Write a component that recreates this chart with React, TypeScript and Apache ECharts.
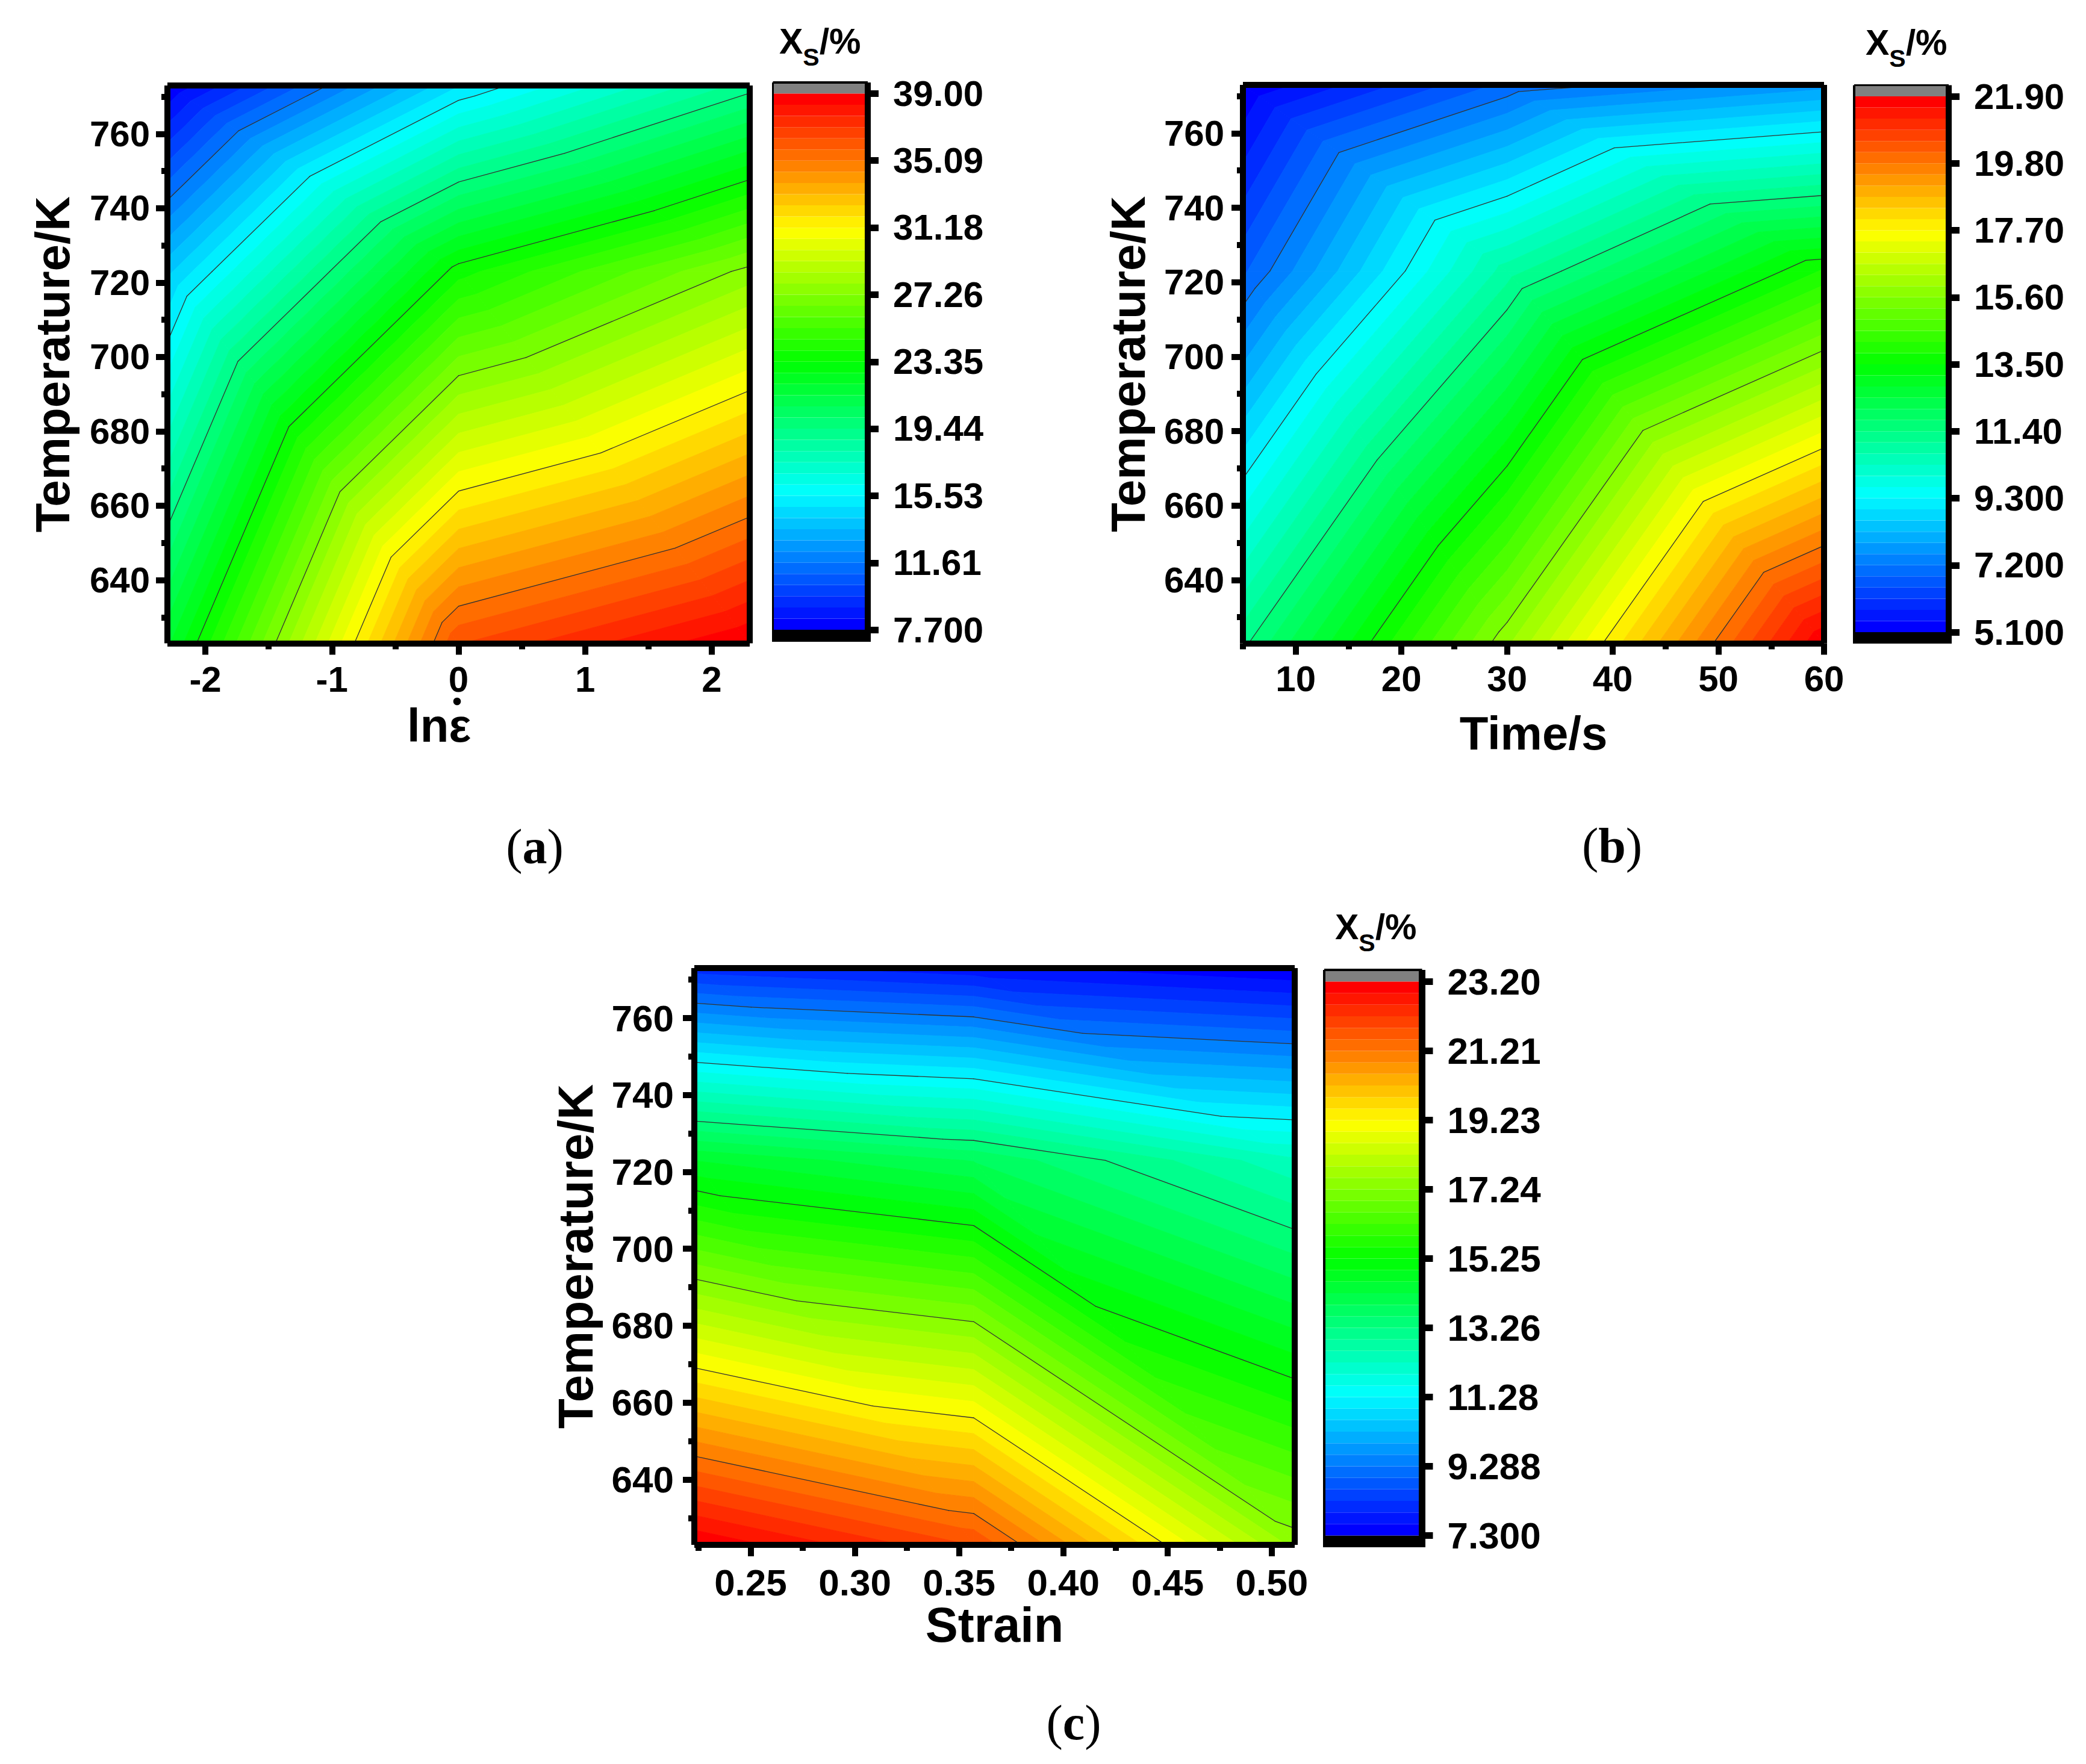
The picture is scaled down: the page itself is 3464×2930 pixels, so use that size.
import React, { useEffect, useRef } from "react";
import * as echarts from "echarts";

// ---------- data ----------
const TEMPERATURES = [623, 723, 773];

const RATE_X = [-2.3, 0, 2.3];
const RATE_Z = [
  [21.9, 36.35, 39.0],
  [14.04, 23.72, 27.5],
  [7.7, 14.82, 19.1],
];
const RATE_TICKS = [-2, -1, 0, 1, 2];
const RATE_MINOR = [-1.5, -0.5, 0.5, 1.5];
const RATE_BAR = ["7.700", "11.61", "15.53", "19.44", "23.35", "27.26", "31.18", "35.09", "39.00"];

const TIME_X = [5, 30, 60];
const TIME_Z = [
  [11.3, 15.88, 21.9],
  [6.78, 10.88, 13.9],
  [5.1, 6.95, 7.75],
];
const TIME_TICKS = [10, 20, 30, 40, 50, 60];
const TIME_MINOR = [5, 15, 25, 35, 45, 55];
const TIME_BAR = ["5.100", "7.200", "9.300", "11.40", "13.50", "15.60", "17.70", "19.80", "21.90"];

const STRAIN_X = [0.223, 0.357, 0.511];
const STRAIN_Z = [
  [23.2, 21.86, 17.46],
  [14.58, 13.9, 12.34],
  [8.11, 7.72, 7.3],
];
const STRAIN_TICKS = [0.25, 0.3, 0.35, 0.4, 0.45, 0.5];
const STRAIN_MINOR = [0.225, 0.275, 0.325, 0.375, 0.425, 0.475];
const STRAIN_BAR = ["7.300", "9.288", "11.28", "13.26", "15.25", "17.24", "19.23", "21.21", "23.20"];

const T_TICKS = [640, 660, 680, 700, 720, 740, 760];
const T_MINOR = [630, 650, 670, 690, 710, 730, 750, 770];

const BANDS = 48;
const FONT = "Liberation Sans";

// ---------- panels: data + placement ----------
const PANELS = [
  {
    xs: RATE_X, zs: RATE_Z, xTicks: RATE_TICKS, xMinor: RATE_MINOR, barLabels: RATE_BAR,
    xName: "", xNameGap: 0, yNameGap: 151, digits: 0,
    fs: 60, nameFs: 78, yNameFs: 80, labelMarginY: 29, labelMarginX: 30,
    grid: { l: 278, r: 1245, t: 142, b: 1068.5 },
    bar: { l: 1283.5, r: 1441, t: 137, b: 1066, tickT: 155.5, tickB: 1046, lw: 3, rw: 10, tw: 4 },
    title: { x: 1294, y: 39 }, caption: { x: 888, y: 1406, t: "a" },
  },
  {
    xs: TIME_X, zs: TIME_Z, xTicks: TIME_TICKS, xMinor: TIME_MINOR, barLabels: TIME_BAR,
    xName: "Time/s", xNameGap: 110, yNameGap: 151, digits: 0,
    fs: 60, nameFs: 78, yNameFs: 80, labelMarginY: 31, labelMarginX: 29,
    grid: { l: 2064, r: 3029, t: 141, b: 1068.5 },
    bar: { l: 3079, r: 3236, t: 141.5, b: 1069, tickT: 160, tickB: 1050, lw: 4, rw: 10, tw: 3 },
    title: { x: 3098, y: 41 }, caption: { x: 2677, y: 1404, t: "b" },
  },
  {
    xs: STRAIN_X, zs: STRAIN_Z, xTicks: STRAIN_TICKS, xMinor: STRAIN_MINOR, barLabels: STRAIN_BAR,
    xName: "Strain", xNameGap: 92, yNameGap: 157, digits: 2,
    fs: 62, nameFs: 81, yNameFs: 82, labelMarginY: 34, labelMarginX: 31,
    grid: { l: 1153, r: 2150, t: 1608, b: 2566 },
    bar: { l: 2199, r: 2361.5, t: 1611, b: 2570, tickT: 1630.5, tickB: 2550.5, lw: 4, rw: 11, tw: 4 },
    title: { x: 2217, y: 1510 }, caption: { x: 1783, y: 2861, t: "c" },
  },
];

// ---------- colour scale: blue, cyan, green, yellow, red ----------
function bandColor(i: number) {
  const t = (i / (BANDS - 1)) * 4;
  const s = Math.floor(Math.min(t, 3.9999));
  const f = Math.round((t - s) * 255);
  const rgb =
    s === 0 ? [0, f, 255] : s === 1 ? [0, 255, 255 - f] : s === 2 ? [f, 255, 0] : [255, 255 - f, 0];
  return `rgb(${rgb[0]},${rgb[1]},${rgb[2]})`;
}

type V = [number, number, number];

function meshTriangles(xs: number[], zs: number[][]) {
  const out: V[][] = [];
  for (let j = 0; j < TEMPERATURES.length - 1; j++) {
    for (let i = 0; i < xs.length - 1; i++) {
      const a: V = [xs[i], TEMPERATURES[j], zs[j][i]];
      const b: V = [xs[i + 1], TEMPERATURES[j], zs[j][i + 1]];
      const c: V = [xs[i], TEMPERATURES[j + 1], zs[j + 1][i]];
      const d: V = [xs[i + 1], TEMPERATURES[j + 1], zs[j + 1][i + 1]];
      out.push([a, b, c], [b, d, c]);
    }
  }
  return out;
}

function cut(poly: V[], level: number, keepAbove: boolean) {
  const out: V[] = [];
  const inside = (v: V) => (keepAbove ? v[2] >= level : v[2] <= level);
  for (let k = 0; k < poly.length; k++) {
    const p = poly[k];
    const q = poly[(k + 1) % poly.length];
    if (inside(p)) out.push(p);
    if (inside(p) !== inside(q)) {
      const f = (level - p[2]) / (q[2] - p[2]);
      out.push([p[0] + f * (q[0] - p[0]), p[1] + f * (q[1] - p[1]), level]);
    }
  }
  return out;
}

function bandPolygons(tris: V[][], lo: number, hi: number) {
  const polys: { pts: [number, number][]; fill: string }[] = [];
  const step = (hi - lo) / BANDS;
  for (let i = 0; i < BANDS; i++) {
    const a = lo + i * step;
    const b = a + step;
    for (const tri of tris) {
      let p = cut(tri, a, true);
      if (p.length >= 3) p = cut(p, b, false);
      if (p.length >= 3) polys.push({ pts: p.map((v) => [v[0], v[1]]), fill: bandColor(i) });
    }
  }
  return polys;
}

function contourSegments(tris: V[][], levels: number[]) {
  const segs: [number, number, number, number][] = [];
  for (const level of levels) {
    for (const tri of tris) {
      const hits: [number, number][] = [];
      for (let k = 0; k < 3; k++) {
        const p = tri[k];
        const q = tri[(k + 1) % 3];
        if (p[2] >= level !== q[2] >= level) {
          const f = (level - p[2]) / (q[2] - p[2]);
          hits.push([p[0] + f * (q[0] - p[0]), p[1] + f * (q[1] - p[1])]);
        }
      }
      if (hits.length === 2) segs.push([hits[0][0], hits[0][1], hits[1][0], hits[1][1]]);
    }
  }
  return segs;
}

function buildOption() {
  const grid: any[] = [];
  const xAxis: any[] = [];
  const yAxis: any[] = [];
  const series: any[] = [];
  const graphic: any[] = [];

  PANELS.forEach((p) => {
    const txt = { color: "#000", fontFamily: FONT, fontWeight: "bold" as const };
    const blackLine = (width: number) => ({
      show: true,
      onZero: false,
      lineStyle: { color: "#000", width, cap: "butt" },
    });
    const noTick = { show: false };
    const noLabel = { show: false };
    const noSplit = { show: false };

    // ---- main plot ----
    const gi = grid.length;
    const g = p.grid;
    grid.push({ left: g.l, top: g.t, width: g.r - g.l, height: g.b - g.t, containLabel: false, outerBoundsMode: "none" });
    const xBase = { type: "value", gridIndex: gi, min: p.xs[0], max: p.xs[p.xs.length - 1], splitLine: noSplit, z: 5 };
    const yBase = { type: "value", gridIndex: gi, min: TEMPERATURES[0], max: TEMPERATURES[TEMPERATURES.length - 1], splitLine: noSplit, z: 5 };
    const x0 = xAxis.length;
    const y0 = yAxis.length;
    xAxis.push({
      ...xBase,
      position: "bottom",
      axisLine: blackLine(10),
      axisTick: { show: true, length: 19, customValues: p.xTicks, lineStyle: { color: "#000", width: 10, cap: "butt" } },
      axisLabel: {
        show: true,
        customValues: p.xTicks,
        margin: p.labelMarginX,
        fontSize: p.fs,
        ...txt,
        formatter: (v: number) => v.toFixed(p.digits),
      },
      name: p.xName,
      nameLocation: "middle",
      nameGap: p.xNameGap,
      nameMoveOverlap: false,
      nameTextStyle: { fontSize: p.nameFs, verticalAlign: "top", ...txt },
    });
    xAxis.push({ ...xBase, position: "top", axisLine: blackLine(10), axisTick: noTick, axisLabel: noLabel });
    xAxis.push({
      ...xBase,
      position: "bottom",
      axisLine: { show: false, onZero: false },
      axisTick: { show: true, length: 10, customValues: p.xMinor, lineStyle: { color: "#000", width: 10, cap: "butt" } },
      axisLabel: noLabel,
    });
    yAxis.push({
      ...yBase,
      position: "left",
      axisLine: blackLine(10),
      axisTick: { show: true, length: 19, customValues: T_TICKS, lineStyle: { color: "#000", width: 10, cap: "butt" } },
      axisLabel: {
        show: true,
        customValues: T_TICKS,
        margin: p.labelMarginY,
        fontSize: p.fs,
        padding: [0, 0, 4, 0],
        ...txt,
        formatter: (v: number) => String(v),
      },
      name: "Temperature/K",
      nameLocation: "middle",
      nameGap: p.yNameGap,
      nameMoveOverlap: false,
      nameTextStyle: { fontSize: p.yNameFs, ...txt },
    });
    yAxis.push({ ...yBase, position: "right", axisLine: blackLine(10), axisTick: noTick, axisLabel: noLabel });
    yAxis.push({
      ...yBase,
      position: "left",
      axisLine: { show: false, onZero: false },
      axisTick: { show: true, length: 10, customValues: T_MINOR, lineStyle: { color: "#000", width: 10, cap: "butt" } },
      axisLabel: noLabel,
    });

    const tris = meshTriangles(p.xs, p.zs);
    const vals = p.barLabels.map(Number);
    const lo = vals[0];
    const hi = vals[vals.length - 1];
    const polys = bandPolygons(tris, lo, hi);
    series.push({
      type: "custom",
      coordinateSystem: "cartesian2d",
      xAxisIndex: x0,
      yAxisIndex: y0,
      silent: true,
      clip: true,
      data: polys.map((q) => q.pts[0]),
      renderItem: (params: any, api: any) => {
        const q = polys[params.dataIndex];
        return {
          type: "polygon",
          shape: { points: q.pts.map((pt) => api.coord(pt)) },
          style: { fill: q.fill, stroke: q.fill, lineWidth: 1 },
        };
      },
    });
    const levels = vals.slice(1, -1);
    const segs = contourSegments(tris, levels);
    series.push({
      type: "custom",
      coordinateSystem: "cartesian2d",
      xAxisIndex: x0,
      yAxisIndex: y0,
      silent: true,
      clip: true,
      z: 3,
      data: segs.map((s) => [s[0], s[1]]),
      renderItem: (params: any, api: any) => {
        const s = segs[params.dataIndex];
        const a = api.coord([s[0], s[1]]);
        const b = api.coord([s[2], s[3]]);
        return {
          type: "line",
          shape: { x1: a[0], y1: a[1], x2: b[0], y2: b[1] },
          style: { stroke: "#333333", lineWidth: 1.3, lineCap: "round", fill: null },
        };
      },
    });

    // ---- colour bar ----
    const bi = grid.length;
    const b = p.bar;
    grid.push({ left: b.l, top: b.t, width: b.r - b.l, height: b.b - b.t, containLabel: false, outerBoundsMode: "none" });
    const perPx = (hi - lo) / (b.tickB - b.tickT);
    const axMin = lo - (b.b - b.tickB) * perPx;
    const axMax = hi + (b.tickT - b.t) * perPx;
    const bx = xAxis.length;
    const by = yAxis.length;
    xAxis.push({
      type: "value", gridIndex: bi, min: 0, max: 1, position: "top", splitLine: noSplit, z: 5,
      axisLine: blackLine(b.tw), axisTick: noTick, axisLabel: noLabel,
    });
    yAxis.push({
      type: "value", gridIndex: bi, min: axMin, max: axMax, position: "right", splitLine: noSplit, z: 5,
      axisLine: blackLine(b.rw),
      axisTick: { show: true, length: 18, customValues: vals, lineStyle: { color: "#000", width: 11, cap: "butt" } },
      axisLabel: {
        show: true,
        customValues: vals,
        margin: 42,
        fontSize: p.fs,
        ...txt,
        formatter: (v: number) => {
          let best = 0;
          vals.forEach((u, k) => {
            if (Math.abs(u - v) < Math.abs(vals[best] - v)) best = k;
          });
          return p.barLabels[best];
        },
      },
    });
    yAxis.push({
      type: "value", gridIndex: bi, min: axMin, max: axMax, position: "left", splitLine: noSplit, z: 5,
      axisLine: blackLine(b.lw), axisTick: noTick, axisLabel: noLabel,
    });
    const step = (hi - lo) / BANDS;
    const cells: { a: number; b: number; fill: string }[] = [
      { a: axMin, b: lo, fill: "#000000" },
      { a: hi, b: axMax, fill: "#808080" },
    ];
    for (let i = 0; i < BANDS; i++) cells.push({ a: lo + i * step, b: lo + (i + 1) * step, fill: bandColor(i) });
    series.push({
      type: "custom",
      coordinateSystem: "cartesian2d",
      xAxisIndex: bx,
      yAxisIndex: by,
      silent: true,
      data: cells.map((c) => [0, c.a]),
      renderItem: (params: any, api: any) => {
        const c = cells[params.dataIndex];
        const tl = api.coord([0, c.b]);
        const br = api.coord([1, c.a]);
        return {
          type: "rect",
          shape: { x: tl[0], y: tl[1], width: br[0] - tl[0], height: br[1] - tl[1] },
          style: { fill: c.fill },
        };
      },
    });

    // ---- bar title and caption ----
    const tf = { fontFamily: FONT, fontWeight: "bold", fill: "#000" };
    graphic.push({
      type: "text",
      x: p.title.x,
      y: p.title.y,
      silent: true,
      style: {
        text: "{x|X}{s|S}{x|/%}",
        rich: {
          x: { ...tf, fontSize: 59, lineHeight: 76, verticalAlign: "top" },
          s: { ...tf, fontSize: 41, lineHeight: 76, verticalAlign: "bottom" },
        },
      },
    });
    graphic.push({
      type: "text",
      x: p.caption.x,
      y: p.caption.y,
      silent: true,
      style: {
        text: `{p|(}{b|${p.caption.t}}{p|)}`,
        align: "center",
        verticalAlign: "middle",
        rich: {
          p: { fontFamily: "Liberation Serif", fontSize: 82, fontWeight: "normal", fill: "#000" },
          b: { fontFamily: "Liberation Serif", fontSize: 82, fontWeight: "bold", fill: "#000" },
        },
      },
    });
  });

  // x-axis name of the first panel, set left of the axis centre, with the dot over its epsilon
  graphic.push({
    type: "text",
    x: 676,
    y: 1166,
    silent: true,
    style: { text: "lnε", fontFamily: FONT, fontWeight: "bold", fontSize: 78, fill: "#000", verticalAlign: "top" },
  });
  graphic.push({ type: "circle", silent: true, shape: { cx: 759, cy: 1165, r: 6.3 }, style: { fill: "#000" } });

  return { animation: false, backgroundColor: "#fff", grid, xAxis, yAxis, series, graphic: { elements: graphic } };
}

export default function App() {
  const ref = useRef<HTMLDivElement>(null);
  useEffect(() => {
    const chart = echarts.init(ref.current!, undefined, { renderer: "svg" });
    chart.setOption(buildOption() as any);
    return () => chart.dispose();
  }, []);
  return <div ref={ref} style={{ position: "absolute", left: 0, top: 0, width: 3464, height: 2930 }} />;
}
